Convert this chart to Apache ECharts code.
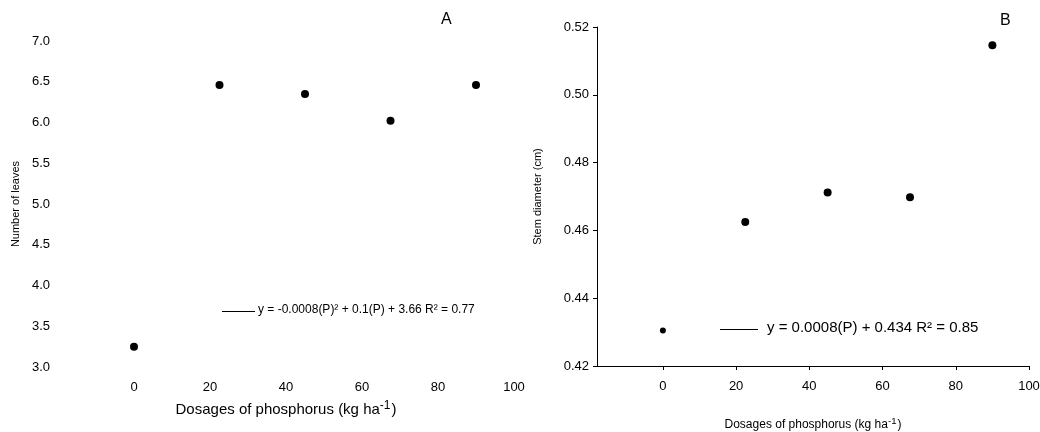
<!DOCTYPE html>
<html>
<head>
<meta charset="utf-8">
<script src="https://cdn.jsdelivr.net/npm/echarts@6/dist/echarts.min.js"></script>
<style>html,body{margin:0;padding:0;background:#fff}#c{width:1040px;height:432px}</style>
</head>
<body>
<div id="c"></div>
<script>
const dosages = [0, 22.5, 45, 67.5, 90];
const leaves = [3.25, 6.46, 6.35, 6.02, 6.46];
const diameter = [0.4305, 0.4625, 0.4712, 0.4698, 0.5146];
const xTicks = [0, 20, 40, 60, 80, 100];

const font = 'Liberation Sans, Arial, sans-serif';
const chart = echarts.init(document.getElementById('c'));

function pts(ys) { return dosages.map((d, i) => [d, ys[i]]); }
function xName(size) {
  return {
    fontSize: size, color: '#000',
    rich: { sup: { fontSize: size * 0.8, verticalAlign: 'top', padding: [0, 1, size * 0.55, 0], color: '#000' } }
  };
}

chart.setOption({
  animation: false,
  textStyle: { fontFamily: font, color: '#000' },
  grid: [
    { left: 58, right: 526, top: 41, bottom: 65, outerBoundsMode: 'none', containLabel: false },
    { left: 597, right: 11, top: 27, bottom: 66, outerBoundsMode: 'none', containLabel: false }
  ],
  xAxis: [
    {
      gridIndex: 0, type: 'value', min: -20, max: 100, interval: 20,
      axisLine: { show: false }, axisTick: { show: false }, splitLine: { show: false },
      axisLabel: { color: '#000', fontSize: 13, margin: 14,
        formatter: v => xTicks.includes(v) ? String(v) : '' },
      name: 'Dosages of phosphorus (kg ha{sup|-1})', nameLocation: 'middle', nameGap: 33,
      nameTextStyle: xName(15)
    },
    {
      gridIndex: 1, type: 'value', min: -18, max: 100,
      axisLine: { show: true, onZero: false, lineStyle: { color: '#000' } },
      axisTick: { show: true, length: 4, lineStyle: { color: '#000' },
        customValues: xTicks },
      axisLabel: { color: '#000', fontSize: 13, margin: 14, customValues: xTicks },
      splitLine: { show: false },
      name: 'Dosages of phosphorus (kg ha{sup|-1})', nameLocation: 'middle', nameGap: 50,
      nameTextStyle: xName(12)
    }
  ],
  yAxis: [
    {
      gridIndex: 0, type: 'value', min: 3.0, max: 7.0, interval: 0.5,
      axisLine: { show: false }, axisTick: { show: false }, splitLine: { show: false },
      axisLabel: { color: '#000', fontSize: 13, margin: 8, formatter: v => v.toFixed(1) },
      name: 'Number of leaves', nameLocation: 'middle', nameGap: 37,
      nameTextStyle: { fontSize: 11, color: '#000' }
    },
    {
      gridIndex: 1, type: 'value', min: 0.42, max: 0.52, interval: 0.02,
      axisLine: { show: true, onZero: false, lineStyle: { color: '#000' } },
      axisTick: { show: true, length: 4, lineStyle: { color: '#000' } },
      splitLine: { show: false },
      axisLabel: { color: '#000', fontSize: 13, margin: 8, formatter: v => v.toFixed(2) },
      name: 'Stem diameter (cm)', nameLocation: 'middle', nameGap: 54,
      nameTextStyle: { fontSize: 11, color: '#000' }
    }
  ],
  series: [
    {
      type: 'scatter', xAxisIndex: 0, yAxisIndex: 0, data: pts(leaves),
      symbolSize: 8, itemStyle: { color: '#000', opacity: 1 }
    },
    {
      type: 'scatter', xAxisIndex: 1, yAxisIndex: 1, data: pts(diameter),
      symbolSize: (v, p) => p.dataIndex === 0 ? 6 : 8, itemStyle: { color: '#000', opacity: 1 }
    }
  ],
  graphic: [
    { type: 'text', left: 441, top: 12, style: { text: 'A', font: '16px ' + font, fill: '#000' } },
    { type: 'text', left: 1000, top: 13, style: { text: 'B', font: '16px ' + font, fill: '#000' } },
    { type: 'line', shape: { x1: 222, y1: 311.5, x2: 255, y2: 311.5 }, style: { stroke: '#000', lineWidth: 1 } },
    { type: 'text', left: 258, top: 304, style: { text: 'y = -0.0008(P)² + 0.1(P) + 3.66 R² = 0.77', font: '12px ' + font, fill: '#000' } },
    { type: 'line', shape: { x1: 720, y1: 329.5, x2: 758, y2: 329.5 }, style: { stroke: '#000', lineWidth: 1 } },
    { type: 'text', left: 767, top: 320, style: { text: 'y = 0.0008(P) + 0.434 R² = 0.85', font: '15px ' + font, fill: '#000' } }
  ]
});
</script>
</body>
</html>
